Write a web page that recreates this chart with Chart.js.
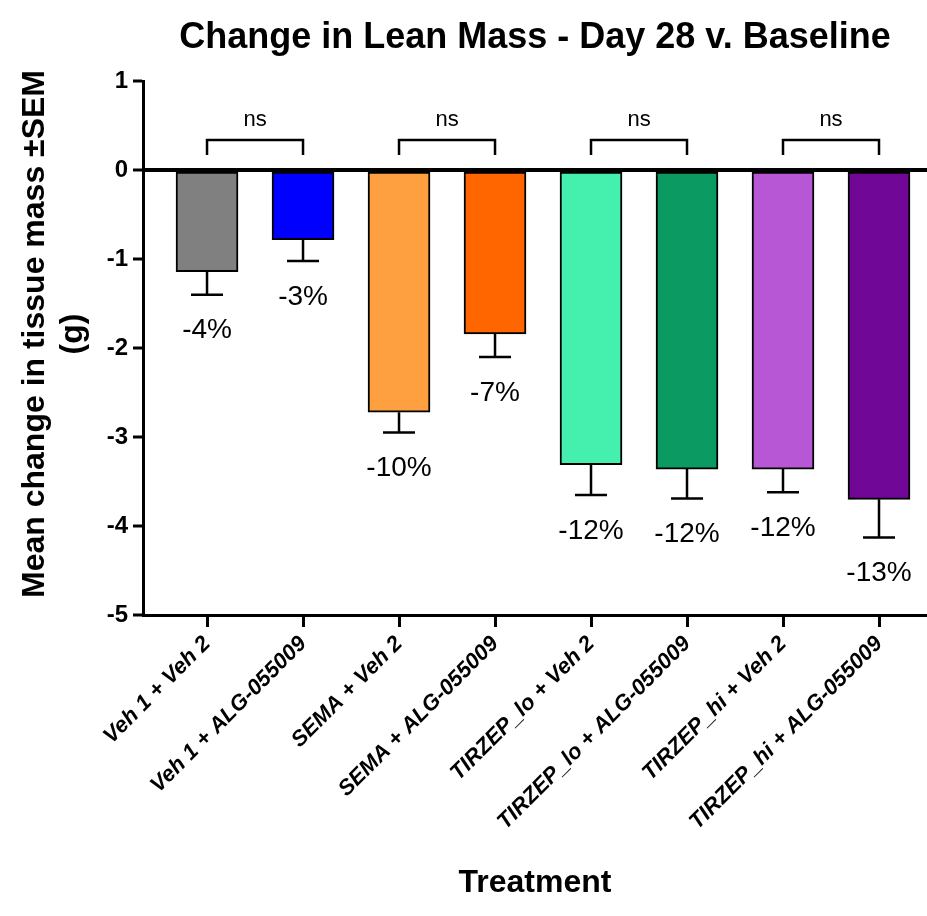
<!DOCTYPE html>
<html>
<head>
<meta charset="utf-8">
<script src="https://cdn.jsdelivr.net/npm/chart.js@4.4.1/dist/chart.umd.min.js"></script>
<style>
  body { margin: 0; background: #fff; }
  #wrap { width: 927px; height: 916px; }
</style>
</head>
<body>
<div id="wrap"><canvas id="leanChart"></canvas></div>
<script>
// Data
const categories = ["Veh 1 + Veh 2", "Veh 1 + ALG-055009", "SEMA + Veh 2", "SEMA + ALG-055009",
  "TIRZEP_lo + Veh 2", "TIRZEP_lo + ALG-055009", "TIRZEP_hi + Veh 2", "TIRZEP_hi + ALG-055009"];
const meanChange = [-1.14, -0.78, -2.72, -1.84, -3.31, -3.36, -3.36, -3.70];
const semValues = [0.26, 0.24, 0.23, 0.26, 0.34, 0.33, 0.26, 0.43];
const pctLabels = ["-4%", "-3%", "-10%", "-7%", "-12%", "-12%", "-12%", "-13%"];
const comparisons = [[0, 1], [2, 3], [4, 5], [6, 7]];
const compLabels = ["ns", "ns", "ns", "ns"];
const barColors = ["#808080", "#0000FF", "#FFA040", "#FF6600", "#45F0AE", "#0B9A61", "#B857D6", "#710796"];
const yTitleLines = ["Mean change in tissue mass ±SEM", "(g)"];

const FONT = "'Liberation Sans', Arial, sans-serif";
Chart.defaults.font.family = FONT;
Chart.defaults.color = "#000";

// Error bars, percent labels, "ns" brackets and the y title
const extras = {
  id: "extras",
  afterDatasetsDraw(chart) {
    const ctx = chart.ctx;
    const x = chart.scales.x, y = chart.scales.y;
    ctx.save();
    ctx.strokeStyle = "#000";
    ctx.fillStyle = "#000";
    ctx.lineWidth = 2.5;
    ctx.textAlign = "center";
    ctx.textBaseline = "middle";

    meanChange.forEach((m, i) => {
      const px = x.getPixelForValue(i);
      const top = y.getPixelForValue(m);
      const bot = y.getPixelForValue(m - semValues[i]);
      ctx.beginPath();
      ctx.moveTo(px, top);
      ctx.lineTo(px, bot);
      ctx.moveTo(px - 16, bot);
      ctx.lineTo(px + 16, bot);
      ctx.stroke();
      ctx.font = "28px " + FONT;
      ctx.fillText(pctLabels[i], px, bot + 36);
    });

    // brackets sit above zero
    const yBar = y.getPixelForValue(0.34);
    const yTip = y.getPixelForValue(0.17);
    const yText = y.getPixelForValue(0.56);
    ctx.font = "22px " + FONT;
    comparisons.forEach((pair, k) => {
      const a = x.getPixelForValue(pair[0]);
      const b = x.getPixelForValue(pair[1]);
      ctx.beginPath();
      ctx.moveTo(a, yTip);
      ctx.lineTo(a, yBar);
      ctx.lineTo(b, yBar);
      ctx.lineTo(b, yTip);
      ctx.stroke();
      ctx.fillText(compLabels[k], (a + b) / 2, yText);
    });

    // y axis title, two lines
    ctx.translate(35, 334);
    ctx.rotate(-Math.PI / 2);
    ctx.font = "bold 32px " + FONT;
    yTitleLines.forEach((line, k) => ctx.fillText(line, 0, k * 38));
    ctx.restore();
  }
};

new Chart(document.getElementById("leanChart"), {
  type: "bar",
  data: {
    datasets: [{
      data: meanChange.map((v, i) => ({ x: i, y: v })),
      backgroundColor: barColors,
      borderColor: "#000",
      borderWidth: 2,
      borderSkipped: false,
      barThickness: 62
    }]
  },
  options: {
    responsive: true,
    maintainAspectRatio: false,
    animation: false,
    layout: { padding: 0 },
    plugins: {
      legend: { display: false },
      tooltip: { enabled: false },
      title: {
        display: true,
        text: "Change in Lean Mass - Day 28 v. Baseline",
        fullSize: false,
        color: "#000",
        font: { size: 36, weight: "bold", lineHeight: 1.2 },
        padding: { top: 16, bottom: 22 }
      }
    },
    scales: {
      x: {
        type: "linear",
        min: -0.667,
        max: 7.5,
        offset: false,
        afterBuildTicks: axis => { axis.ticks = categories.map((c, i) => ({ value: i })); },
        afterFit: axis => { axis.height = 301; },
        ticks: {
          autoSkip: false,
          minRotation: 45,
          maxRotation: 45,
          padding: 4,
          color: "#000",
          font: { size: 22, weight: "bold", style: "italic" },
          callback: v => categories[v]
        },
        grid: { offset: false, drawOnChartArea: false, tickLength: 12, tickWidth: 3, tickColor: "#000" },
        border: { color: "#000", width: 3 },
        title: {
          display: true,
          text: "Treatment",
          color: "#000",
          font: { size: 32, weight: "bold", lineHeight: 1.2 },
          padding: { top: 0, bottom: 14 }
        }
      },
      y: {
        min: -5,
        max: 1,
        afterFit: axis => { axis.width = 143; },
        ticks: {
          stepSize: 1,
          padding: 5,
          color: "#000",
          font: { size: 24, weight: "bold" }
        },
        grid: {
          color: c => (c.tick && c.tick.value === 0 ? "#000" : "rgba(0,0,0,0)"),
          lineWidth: c => (c.tick && c.tick.value === 0 ? 4 : 0),
          tickLength: 10,
          tickWidth: 3,
          tickColor: "#000"
        },
        border: { color: "#000", width: 3 }
      }
    }
  },
  plugins: [extras]
});
</script>
</body>
</html>
